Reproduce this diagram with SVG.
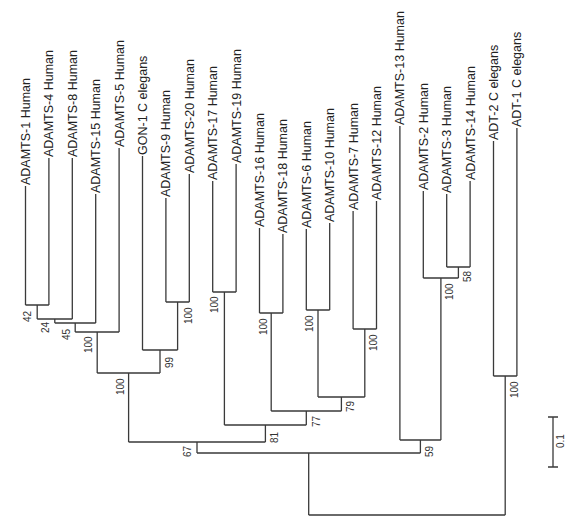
<svg xmlns="http://www.w3.org/2000/svg" width="565" height="519" viewBox="0 0 565 519">
<style>
.leaf{font-family:"Liberation Sans",Arial,sans-serif;font-size:12.5px;fill:#222}
.bs{font-family:"Liberation Sans",Arial,sans-serif;font-size:10px;fill:#333}
.br{fill:none;stroke:#3a3a3a;stroke-width:1.3}
</style>
<rect width="565" height="519" fill="#fff"/>
<g id="connectors" class="br">
<path d="M25.5 186V305M48.9 158V305M25.5 305H48.9"/>
<path d="M37.2 305V319M72.3 158V319M37.2 319H72.3"/>
<path d="M54.8 319V323M95.7 194V323M54.8 323H95.7"/>
<path d="M75.2 323V332M119.1 148V332M75.2 332H119.1"/>
<path d="M165.9 198V302M189.3 174V302M165.9 302H189.3"/>
<path d="M142.5 156V350M177.6 302V350M142.5 350H177.6"/>
<path d="M97.2 332V373M160 350V373M97.2 373H160"/>
<path d="M212.7 181V292M236.1 164V292M212.7 292H236.1"/>
<path d="M259.5 228V313M282.9 234V313M259.5 313H282.9"/>
<path d="M306.3 229V310M329.7 223V310M306.3 310H329.7"/>
<path d="M353.1 211V329M376.5 201V329M353.1 329H376.5"/>
<path d="M318 310V397M364.8 329V397M318 397H364.8"/>
<path d="M271.2 313V411M341.4 397V411M271.2 411H341.4"/>
<path d="M224.4 292V425M306.3 411V425M224.4 425H306.3"/>
<path d="M128.6 373V442M265.4 425V442M128.6 442H265.4"/>
<path d="M446.7 194V267M470.1 181V267M446.7 267H470.1"/>
<path d="M423.3 191V278M458.4 267V278M423.3 278H458.4"/>
<path d="M399.9 126V440M440.9 278V440M399.9 440H440.9"/>
<path d="M197 442V453M420.4 440V453M197 453H420.4"/>
<path d="M493.5 141V376M516.9 128V376M493.5 376H516.9"/>
<path d="M308.7 453V515M505.2 376V515M308.7 515H505.2"/>
<path d="M553 417V467M548 417H558M548 467H558"/>
</g>
<g id="leaf-adamts1"><text class="leaf" transform="translate(30,185) rotate(-90)">ADAMTS-1 Human</text></g>
<g id="leaf-adamts4"><text class="leaf" transform="translate(53.4,157) rotate(-90)">ADAMTS-4 Human</text></g>
<g id="leaf-adamts8"><text class="leaf" transform="translate(76.8,157) rotate(-90)">ADAMTS-8 Human</text></g>
<g id="leaf-adamts15"><text class="leaf" transform="translate(100.2,193) rotate(-90)">ADAMTS-15 Human</text></g>
<g id="leaf-adamts5"><text class="leaf" transform="translate(123.6,147) rotate(-90)">ADAMTS-5 Human</text></g>
<g id="leaf-gon1"><text class="leaf" transform="translate(147,155) rotate(-90)">GON-1 C elegans</text></g>
<g id="leaf-adamts9"><text class="leaf" transform="translate(170.4,197) rotate(-90)">ADAMTS-9 Human</text></g>
<g id="leaf-adamts20"><text class="leaf" transform="translate(193.8,173) rotate(-90)">ADAMTS-20 Human</text></g>
<g id="leaf-adamts17"><text class="leaf" transform="translate(217.2,180) rotate(-90)">ADAMTS-17 Human</text></g>
<g id="leaf-adamts19"><text class="leaf" transform="translate(240.6,163) rotate(-90)">ADAMTS-19 Human</text></g>
<g id="leaf-adamts16"><text class="leaf" transform="translate(264,227) rotate(-90)">ADAMTS-16 Human</text></g>
<g id="leaf-adamts18"><text class="leaf" transform="translate(287.4,233) rotate(-90)">ADAMTS-18 Human</text></g>
<g id="leaf-adamts6"><text class="leaf" transform="translate(310.8,228) rotate(-90)">ADAMTS-6 Human</text></g>
<g id="leaf-adamts10"><text class="leaf" transform="translate(334.2,222) rotate(-90)">ADAMTS-10 Human</text></g>
<g id="leaf-adamts7"><text class="leaf" transform="translate(357.6,210) rotate(-90)">ADAMTS-7 Human</text></g>
<g id="leaf-adamts12"><text class="leaf" transform="translate(381,200) rotate(-90)">ADAMTS-12 Human</text></g>
<g id="leaf-adamts13"><text class="leaf" transform="translate(404.4,125) rotate(-90)">ADAMTS-13 Human</text></g>
<g id="leaf-adamts2"><text class="leaf" transform="translate(427.8,190) rotate(-90)">ADAMTS-2 Human</text></g>
<g id="leaf-adamts3"><text class="leaf" transform="translate(451.2,193) rotate(-90)">ADAMTS-3 Human</text></g>
<g id="leaf-adamts14"><text class="leaf" transform="translate(474.6,180) rotate(-90)">ADAMTS-14 Human</text></g>
<g id="leaf-adt2"><text class="leaf" transform="translate(498,140) rotate(-90)">ADT-2 C elegans</text></g>
<g id="leaf-adt1"><text class="leaf" transform="translate(521.4,127) rotate(-90)">ADT-1 C elegans</text></g>
<g id="node-a"><text class="bs" transform="translate(31,322) rotate(-90)">42</text></g>
<g id="node-b"><text class="bs" transform="translate(49,333) rotate(-90)">24</text></g>
<g id="node-c"><text class="bs" transform="translate(70,340) rotate(-90)">45</text></g>
<g id="node-d"><text class="bs" transform="translate(92,353) rotate(-90)">100</text></g>
<g id="node-e"><text class="bs" transform="translate(192,324) rotate(-90)">100</text></g>
<g id="node-f"><text class="bs" transform="translate(173,368) rotate(-90)">99</text></g>
<g id="node-g"><text class="bs" transform="translate(124,395) rotate(-90)">100</text></g>
<g id="node-h"><text class="bs" transform="translate(218,313) rotate(-90)">100</text></g>
<g id="node-i"><text class="bs" transform="translate(267,335) rotate(-90)">100</text></g>
<g id="node-j"><text class="bs" transform="translate(313,332) rotate(-90)">100</text></g>
<g id="node-k"><text class="bs" transform="translate(377,351) rotate(-90)">100</text></g>
<g id="node-l"><text class="bs" transform="translate(354,412) rotate(-90)">79</text></g>
<g id="node-m"><text class="bs" transform="translate(320,427) rotate(-90)">77</text></g>
<g id="node-n"><text class="bs" transform="translate(278,443) rotate(-90)">81</text></g>
<g id="node-o"><text class="bs" transform="translate(191,457) rotate(-90)">67</text></g>
<g id="node-q"><text class="bs" transform="translate(471,282) rotate(-90)">58</text></g>
<g id="node-p"><text class="bs" transform="translate(453,300) rotate(-90)">100</text></g>
<g id="node-r"><text class="bs" transform="translate(433,457) rotate(-90)">59</text></g>
<g id="node-t"><text class="bs" transform="translate(518,398) rotate(-90)">100</text></g>
<g id="scale"><text class="bs" transform="translate(564,448) rotate(-90)">0.1</text></g>
</svg>
